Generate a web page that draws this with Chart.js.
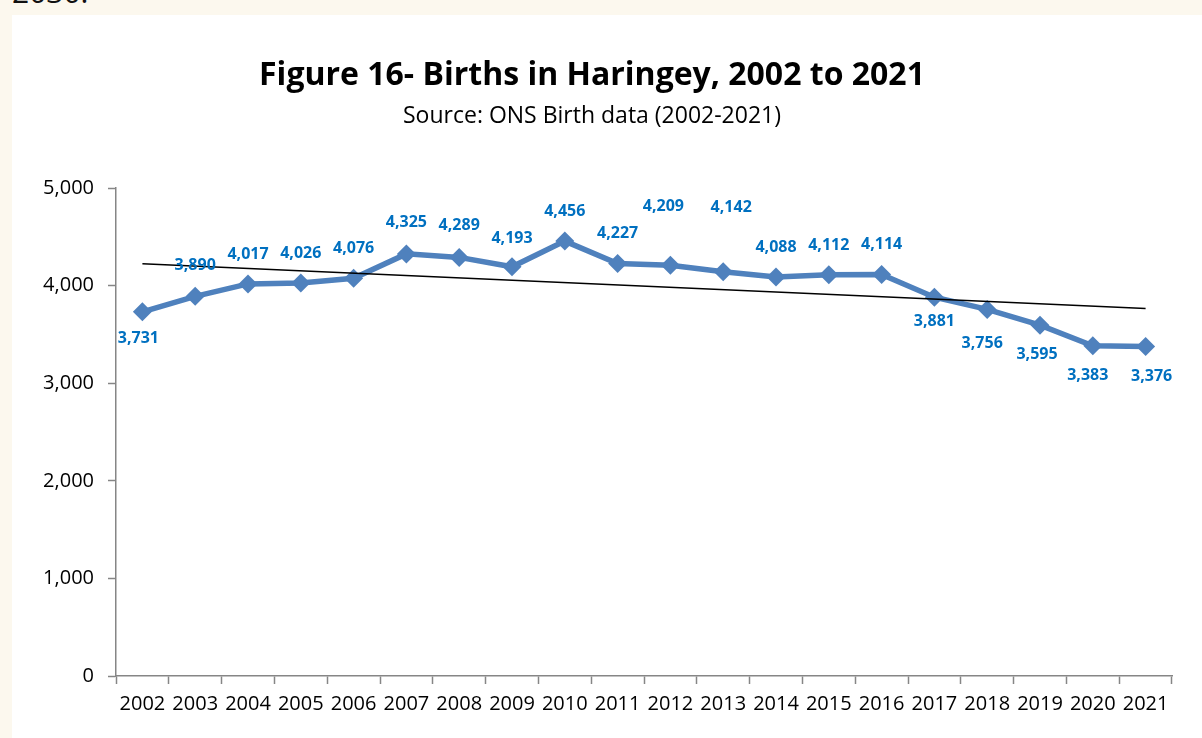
<!DOCTYPE html>
<html lang="en">
<head>
    <meta charset="UTF-8">
    <title>Births in Haringey</title>
    <script src="https://cdn.jsdelivr.net/npm/chart.js"></script>
    <style>
        html, body {
            margin: 0;
            padding: 0;
            width: 1202px;
            height: 738px;
            overflow: hidden;
            background-color: #fcf8ee;
            font-family: "Open Sans", sans-serif;
        }
        .prev-text {
            position: absolute;
            left: 12px;
            top: -28px;
            font-size: 30px;
            line-height: 40px;
            color: #111;
        }
        .card {
            position: absolute;
            left: 12px;
            top: 15px;
            width: 1190px;
            height: 723px;
            background: white;
        }
    </style>
</head>
<body>
    <div class="prev-text">2030.</div>
    <div class="card">
        <canvas id="birthsChart" width="1190" height="723"></canvas>
    </div>
    <script>
        const years = ["2002", "2003", "2004", "2005", "2006", "2007", "2008", "2009", "2010", "2011",
                       "2012", "2013", "2014", "2015", "2016", "2017", "2018", "2019", "2020", "2021"];
        const births = [3731, 3890, 4017, 4026, 4076, 4325, 4289, 4193, 4456, 4227,
                        4209, 4142, 4088, 4112, 4114, 3881, 3756, 3595, 3383, 3376];
        // trend line end values
        const trendStart = 4223;
        const trendEnd = 3766;
        const yTicks = [0, 1000, 2000, 3000, 4000, 5000];

        // label placement relative to each point (px)
        const labelDx = [-4, 0, 0, 0, 0, 0, 0, 0, 0, 0, -7, 8, 0, 0, 0, 0, -5, -3, -5, 6];
        const labelDy = [27, -31, -30, -30, -30, -31, -32, -28, -30, -30, -59, -64, -30, -29, -30, 24, 34, 29, 30, 30];

        let trend = years.map(() => null);
        trend[0] = trendStart;
        trend[trend.length - 1] = trendEnd;

        const pointLabels = {
            id: "pointLabels",
            afterDatasetsDraw(chart) {
                const ctx = chart.ctx;
                const meta = chart.getDatasetMeta(1);
                ctx.save();
                ctx.font = "bold 16px 'Open Sans'";
                ctx.fillStyle = "#0070c0";
                ctx.textAlign = "center";
                ctx.textBaseline = "middle";
                meta.data.forEach((pt, i) => {
                    ctx.fillText(births[i].toLocaleString("en-GB"), pt.x + labelDx[i], pt.y + labelDy[i]);
                });
                ctx.restore();
            }
        };

        const axisGray = "#868686";

        new Chart(document.getElementById("birthsChart"), {
            type: "line",
            data: {
                labels: years,
                datasets: [{
                    label: "Trend",
                    data: trend,
                    spanGaps: true,
                    borderColor: "#000000",
                    borderWidth: 1.5,
                    pointRadius: 0,
                    order: 0
                }, {
                    label: "Births",
                    data: births,
                    borderColor: "#4f81bd",
                    backgroundColor: "#4f81bd",
                    borderWidth: 5.5,
                    pointStyle: "rectRot",
                    pointRadius: 9.5,
                    pointHoverRadius: 9.5,
                    pointBorderWidth: 0,
                    tension: 0,
                    order: 1
                }]
            },
            options: {
                responsive: false,
                animation: false,
                layout: { padding: { left: 0, right: 30, top: 0, bottom: 0 } },
                plugins: {
                    legend: { display: false },
                    tooltip: { enabled: false },
                    title: {
                        display: true,
                        text: "Figure 16- Births in Haringey, 2002 to 2021",
                        color: "#000",
                        font: { family: "Open Sans", size: 32, weight: "bold" },
                        padding: { top: 42, bottom: 4 }
                    },
                    subtitle: {
                        display: true,
                        text: "Source: ONS Birth data (2002-2021)",
                        color: "#000",
                        font: { family: "Open Sans", size: 23 },
                        padding: { top: 3, bottom: 58 }
                    }
                },
                scales: {
                    x: {
                        offset: true,
                        afterFit(scale) { scale.height = 62; },
                        grid: {
                            display: true,
                            drawOnChartArea: false,
                            drawTicks: true,
                            tickLength: 8,
                            tickWidth: 1.5,
                            color: axisGray,
                            offset: true
                        },
                        border: { color: axisGray, width: 1.5 },
                        ticks: {
                            color: "#000",
                            font: { family: "Open Sans", size: 20 },
                            padding: 8,
                            maxRotation: 0,
                            autoSkip: false
                        }
                    },
                    y: {
                        min: 0,
                        max: 5000,
                        afterFit(scale) { scale.width = 104; },
                        afterBuildTicks(scale) { scale.ticks = yTicks.map(v => ({ value: v })); },
                        grid: {
                            display: true,
                            drawOnChartArea: false,
                            drawTicks: true,
                            tickLength: 8,
                            tickWidth: 1.5,
                            color: axisGray
                        },
                        border: { color: axisGray, width: 1.5 },
                        ticks: {
                            color: "#000",
                            font: { family: "Open Sans", size: 20 },
                            padding: 14,
                            callback: v => v.toLocaleString("en-GB")
                        }
                    }
                }
            },
            plugins: [pointLabels]
        });
    </script>
</body>
</html>
